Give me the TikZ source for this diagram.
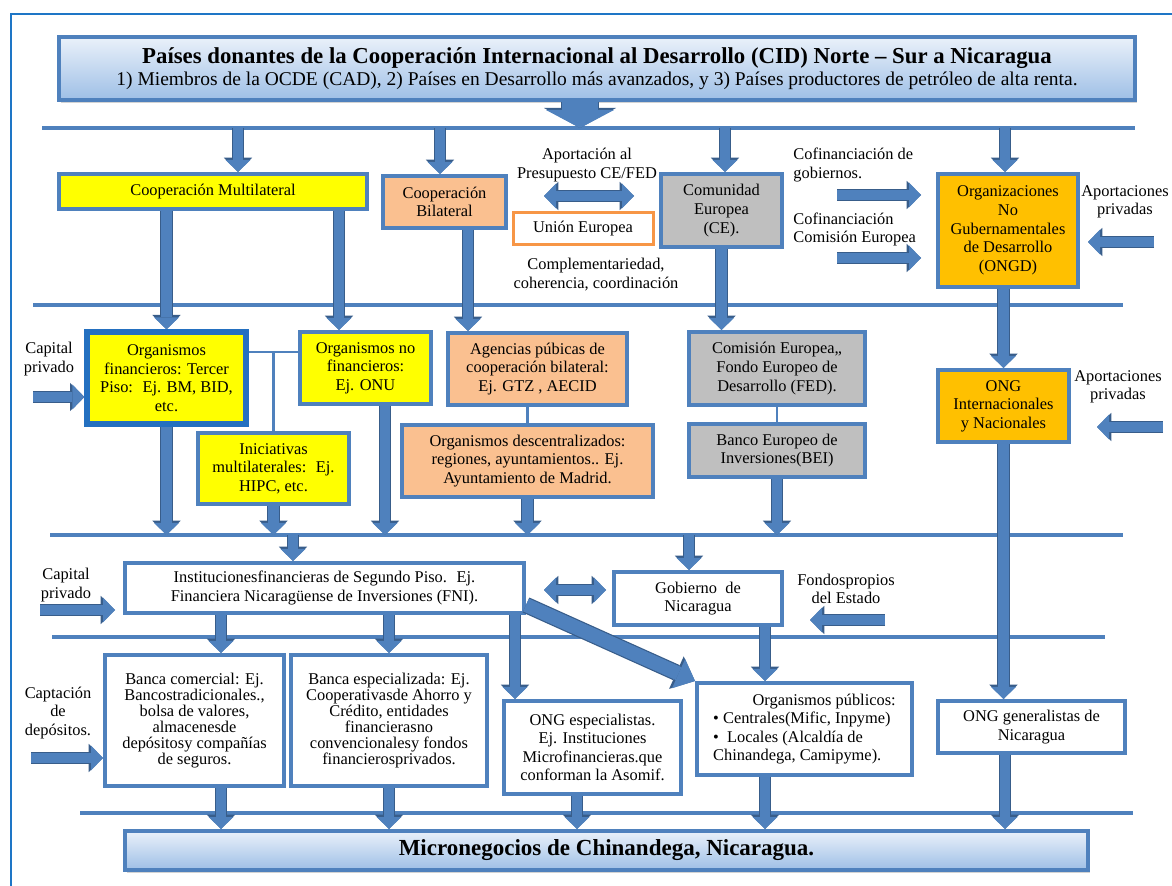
\documentclass[tikz,border=0pt]{standalone}
\usepackage{fontspec}
\setmainfont{Liberation Serif}
\usetikzlibrary{arrows.meta,positioning,shadows}
\definecolor{cidFrame}{HTML}{1E76C6}
\definecolor{cidBlue}{HTML}{4F81BD}
\definecolor{cidEdge}{HTML}{385D8A}
\definecolor{cidFinance}{HTML}{2470C0}
\definecolor{cidYellow}{HTML}{FFFF00}
\definecolor{cidSalmon}{HTML}{FAC090}
\definecolor{cidGrey}{HTML}{BFBFBF}
\definecolor{cidGold}{HTML}{FFC000}
\definecolor{cidOrange}{HTML}{F79646}
\definecolor{cidTop}{HTML}{EAF1FA}
\definecolor{cidBottom}{HTML}{9EBFE6}
\tikzset{
  cid diagram/.style={x=0.5pt, y=-0.5pt, font=\fontsize{8.2}{9.3}\selectfont},
  cid frame/.style={draw=cidFrame, line width=1pt},
  cid box/.style={draw=cidBlue, line width=2pt, fill=white, align=center, inner sep=1pt},
  cid multi/.style={cid box, fill=cidYellow},
  cid bilateral/.style={cid box, fill=cidSalmon},
  cid eu/.style={cid box, fill=cidGrey},
  cid ngo/.style={cid box, fill=cidGold},
  cid band/.style={cid box, top color=cidTop, bottom color=cidBottom,
    drop shadow={shadow xshift=1.2pt, shadow yshift=-1.5pt, opacity=0.35}},
  cid note/.style={align=center, inner sep=0pt},
  cid bus/.style={draw=cidBlue, line width=2.2pt},
  cid link/.style={draw=cidBlue, line width=1.1pt},
  cid arrow/.style={draw=cidBlue, line width=5.2pt,
    -{Triangle[length=6pt, width=12.5pt, line width=0pt]},
    preaction={draw=cidEdge, line width=6.4pt,
      -{Triangle[length=7.2pt, width=14.2pt, line width=0pt]}}},
  cid both/.style={draw=cidBlue, line width=5.2pt,
    {Triangle[length=6pt, width=12.5pt, line width=0pt]}-{Triangle[length=6pt, width=12.5pt, line width=0pt]},
    preaction={draw=cidEdge, line width=6.4pt,
      {Triangle[length=7.2pt, width=14.2pt, line width=0pt]}-{Triangle[length=7.2pt, width=14.2pt, line width=0pt]}}},
  cid slant/.style={draw=cidBlue, line width=7pt,
    -{Triangle[length=9pt, width=16pt, line width=0pt]},
    preaction={draw=cidEdge, line width=8.2pt,
      -{Triangle[length=10.2pt, width=17.8pt, line width=0pt]}}},
  cid big arrow/.style={draw=cidBlue, line width=18pt,
    -{Triangle[length=9pt, width=34pt, line width=0pt]},
    preaction={draw=cidEdge, line width=19.4pt,
      -{Triangle[length=10pt, width=36pt, line width=0pt]}}}
}

\begin{document}
\begin{tikzpicture}[cid diagram]
\useasboundingbox (0,0) rectangle (1172,886);
\clip (0,0) rectangle (1172,886);
\draw[cid frame] (11,14) rectangle (1200,910);

\foreach \name/\y/\xa/\xb in {A/128/42/1135,B/305/33/1123,C/535/50/1123,D/637/52/1105,E/813/80/1133}{
  \coordinate (bus\name W) at (\xa,\y);
  \coordinate (bus\name E) at (\xb,\y);
  \draw[cid bus] (bus\name W) -- (bus\name E);
}

\node[cid band, minimum width=538pt, minimum height=31.5pt] (donors) at (597,68.5)
  {{\fontsize{11.4}{13}\selectfont\bfseries Países donantes de la Cooperación Internacional al Desarrollo (CID) Norte -- Sur a Nicaragua}\\[1.5pt]
   {\fontsize{9.75}{11}\selectfont 1) Miembros de la OCDE (CAD), 2) Países en Desarrollo más avanzados, y 3) Países productores de petróleo de alta renta.}};

\node[cid multi, minimum width=154pt, minimum height=17.5pt] (multi) at (213,191.5) {Cooperación Multilateral};
\node[cid bilateral, minimum width=61.5pt, minimum height=26pt] (bilat) at (444.5,202) {Cooperación\\Bilateral};
\node[cid note] (budget) at (587,165) {Aportación al\\Presupuesto CE/FED};
\node[cid box, draw=cidOrange, line width=1.5pt, minimum width=70pt, minimum height=16pt] (union) at (583,229) {Unión Europea};
\node[cid note] (coherence) at (596,274.5) {Complementariedad,\\coherencia, coordinación};
\node[cid eu, minimum width=60.5pt, minimum height=36.5pt] (ce) at (721.5,210.5) {Comunidad\\Europea\\(CE).};
\node[cid note, align=left, anchor=west] (cofinGov) at (793,165) {Cofinanciación de\\gobiernos.};
\node[cid note, align=left, anchor=west] (cofinCom) at (793,229.5) {Cofinanciación\\Comisión Europea};
\node[cid ngo, minimum width=70pt, minimum height=56.5pt] (ongd) at (1008,230.5) {Organizaciones\\No\\Gubernamentales\\de Desarrollo\\(ONGD)};
\node[cid note] (privA) at (1125,202) {Aportaciones\\privadas};

\node[cid note] (capA) at (49,359) {Capital\\privado};
\node[cid multi, draw=cidFinance, line width=2.6pt, minimum width=79.5pt, minimum height=46pt] (orgfin) at (166.5,378)
  {Organismos\\financieros: Tercer\\Piso:~ Ej. BM, BID,\\etc.};
\node[cid multi, minimum width=65.5pt, minimum height=36pt] (orgnofin) at (365.5,368) {Organismos no\\financieros:\\Ej. ONU};
\node[cid multi, minimum width=75.5pt, minimum height=35.5pt] (inic) at (273.5,468.5) {Iniciativas\\multilaterales:~ Ej.\\HIPC, etc.};
\node[cid bilateral, minimum width=89.5pt, minimum height=36pt] (agen) at (537.5,369) {Agencias púbicas de\\cooperación bilateral:\\Ej. GTZ , AECID};
\node[cid bilateral, minimum width=125.5pt, minimum height=36pt] (desc) at (527.5,461)
  {Organismos descentralizados:\\regiones, ayuntamientos.. Ej.\\Ayuntamiento de Madrid.};
\node[cid eu, minimum width=88pt, minimum height=36.5pt] (comis) at (777,368.5) {Comisión Europea,,\\Fondo Europeo de\\Desarrollo (FED).};
\node[cid eu, minimum width=88pt, minimum height=26.5pt] (bei) at (777,450.5) {Banco Europeo de\\Inversiones(BEI)};
\node[cid ngo, minimum width=65.5pt, minimum height=36pt] (ongint) at (1003.5,406) {ONG\\Internacionales\\y Nacionales};
\node[cid note] (privB) at (1118,387) {Aportaciones\\privadas};

\node[cid note] (capB) at (66,585) {Capital\\privado};
\node[cid box, minimum width=199.5pt, minimum height=25pt] (inst) at (324.5,588)
  {Institucionesfinancieras de Segundo Piso.~ Ej.\\Financiera Nicaragüense de Inversiones (FNI).};
\node[cid box, minimum width=84pt, minimum height=26.5pt] (gob) at (698,598.5) {Gobierno~ de\\Nicaragua};
\node[cid note] (funds) at (846,589) {Fondospropios\\del Estado};

\node[cid note] (deposits) at (58,713) {Captación\\de\\depósitos.};
\node[cid box, minimum width=89.5pt, minimum height=65.5pt, font=\fontsize{8.2}{8}\selectfont] (bancom) at (194.5,720.5)
  {Banca comercial: Ej.\\Bancostradicionales.,\\bolsa de valores,\\almacenesde\\depósitosy compañías\\de seguros.};
\node[cid box, minimum width=98pt, minimum height=65.5pt, font=\fontsize{8.2}{8}\selectfont] (bancesp) at (389,720.5)
  {Banca especializada: Ej.\\Cooperativasde Ahorro y\\Crédito, entidades\\financierasno\\convencionalesy fondos\\financierosprivados.};
\node[cid box, minimum width=88.5pt, minimum height=46.5pt] (ongesp) at (592.5,747.5)
  {ONG especialistas.\\Ej. Instituciones\\Microfinancieras.que\\conforman la Asomif.};
\node[cid box, align=left, minimum width=107.5pt, minimum height=46pt] (orgpub) at (804.5,729)
  {\hspace*{2.4em}Organismos públicos:\\• Centrales(Mific, Inpyme)\\•~ Locales (Alcaldía de\\Chinandega, Camipyme).};
\node[cid box, minimum width=93.5pt, minimum height=26pt] (ongen) at (1031.5,727) {ONG generalistas de\\Nicaragua};

\node[cid band, minimum width=481.5pt, minimum height=19.5pt, font=\fontsize{11.5}{13}\selectfont\bfseries] (micro) at (606.5,850.5)
  {Micronegocios de Chinandega, Nicaragua.};

\draw[cid link] ([yshift=13pt]orgfin.east) coordinate (finTie) -- (finTie -| orgnofin.west);
\draw[cid link] (inic.north) -- (inic.north |- finTie);
\draw[cid link] (desc.north) -- (desc.north |- agen.south);
\draw[cid link] (comis.south) -- (bei.north);

\coordinate (hub) at (580,128);
\draw[cid big arrow] (donors.south -| hub) -- (hub);
\foreach \x/\target in {238/multi,440/bilat,725/ce,1005/ongd}
  \draw[cid arrow] (\x,128) coordinate (drop) -- (drop |- \target.north);

\coordinate (budgetLine) at (0,196);
\draw[cid both, shorten <=18pt, shorten >=12.5pt] (bilat.east |- budgetLine) -- (ce.west |- budgetLine);
\coordinate (cofinGovTail) at (837,195);
\coordinate (cofinComTail) at (837,258);
\draw[cid arrow, shorten >=7.5pt] (cofinGovTail) -- (cofinGovTail -| ongd.west);
\draw[cid arrow, shorten >=7.5pt] (cofinComTail) -- (cofinComTail -| ongd.west);
\coordinate (privATail) at (1154,242);
\draw[cid arrow, shorten >=4pt] (privATail) -- (privATail -| ongd.east);

\draw[cid arrow] (multi.south -| orgfin.north) -- (orgfin.north);
\draw[cid arrow] ([xshift=-13.25pt]orgnofin.north |- multi.south) -- ([xshift=-13.25pt]orgnofin.north);
\draw[cid arrow] ([xshift=11.75pt]bilat.south) -- ([xshift=11.75pt]bilat.south |- agen.north);
\draw[cid arrow] (ce.south) -- (ce.south |- comis.north);
\draw[cid arrow] (ongint.north |- ongd.south) -- (ongint.north);

\coordinate (capATail) at (33,397);
\draw[cid arrow] (capATail) -- (capATail -| orgfin.west);
\coordinate (privBTail) at (1163,427);
\draw[cid arrow, shorten >=13pt] (privBTail) -- (privBTail -| ongint.east);

\draw[cid arrow] (orgfin.south) -- (orgfin.south |- busCW);
\draw[cid arrow] (inic.south) -- (inic.south |- busCW);
\draw[cid arrow] ([xshift=9.75pt]orgnofin.south) -- ([xshift=9.75pt]orgnofin.south |- busCW);
\draw[cid arrow] (desc.south) -- (desc.south |- busCW);
\draw[cid arrow] (bei.south) -- (bei.south |- busCW);
\draw[cid arrow] (ongint.south) -- (ongint.south |- ongen.north);

\coordinate (dropInst) at (293,535);
\coordinate (dropGob) at (689,535);
\draw[cid arrow] (dropInst) -- (dropInst |- inst.north);
\draw[cid arrow] (dropGob) -- (dropGob |- gob.north);
\coordinate (capBTail) at (40,610);
\draw[cid arrow, shorten >=4pt] (capBTail) -- (capBTail -| inst.west);
\coordinate (govLine) at (0,590);
\draw[cid both, shorten <=9pt, shorten >=3pt] (inst.east |- govLine) -- (gob.west |- govLine);
\coordinate (fundsTail) at (885,620);
\draw[cid arrow, shorten >=13pt] (fundsTail) -- (fundsTail -| gob.east);

\draw[cid arrow] ([xshift=13.25pt]bancom.north |- inst.south) -- ([xshift=13.25pt]bancom.north);
\draw[cid arrow] (bancesp.north |- inst.south) -- (bancesp.north);
\draw[cid arrow] ([xshift=-38.75pt]ongesp.north |- inst.south) -- ([xshift=-38.75pt]ongesp.north);
\draw[cid slant] ([yshift=5pt]inst.south east) -- (orgpub.north west);
\draw[cid arrow] ([xshift=-19.75pt]orgpub.north |- gob.south) -- ([xshift=-19.75pt]orgpub.north);
\coordinate (depositsTail) at (31,758);
\draw[cid arrow] (depositsTail) -- (depositsTail -| bancom.west);

\draw[cid arrow] ([xshift=13.25pt]bancom.south) -- ([xshift=13.25pt]bancom.south |- micro.north);
\draw[cid arrow] (bancesp.south) -- (bancesp.south |- micro.north);
\draw[cid arrow] ([xshift=-7.75pt]ongesp.south) -- ([xshift=-7.75pt]ongesp.south |- micro.north);
\draw[cid arrow] ([xshift=-19.75pt]orgpub.south) -- ([xshift=-19.75pt]orgpub.south |- micro.north);
\draw[cid arrow] ([xshift=-13.25pt]ongen.south) -- ([xshift=-13.25pt]ongen.south |- micro.north);
\end{tikzpicture}
\end{document}
